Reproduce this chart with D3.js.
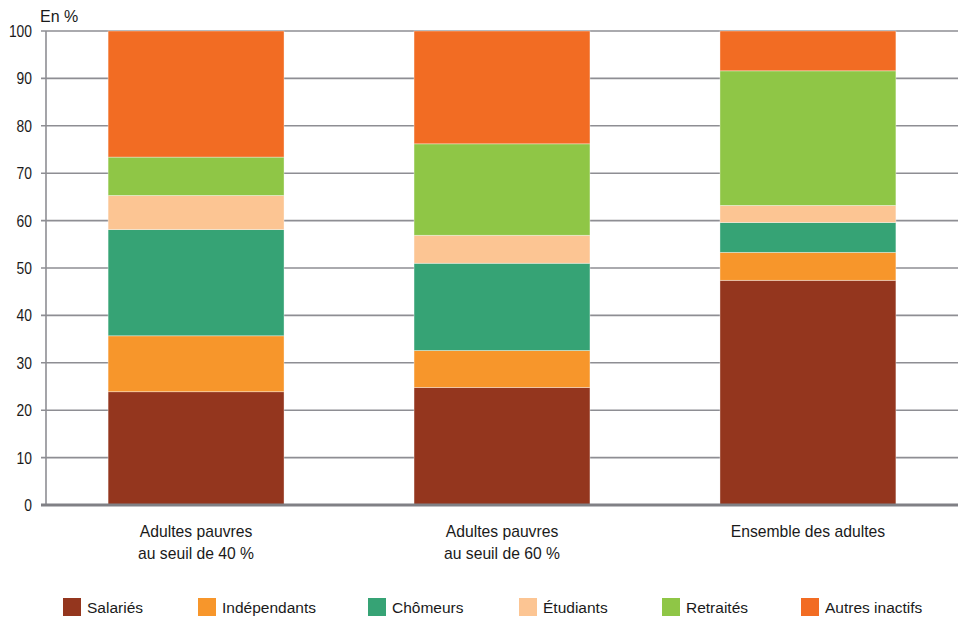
<!DOCTYPE html>
<html>
<head>
<meta charset="utf-8">
<script src="https://cdn.jsdelivr.net/npm/d3@7"></script>
<style>
  body { margin: 0; background: #fff; }
  svg { display: block; font-family: "Liberation Sans", Arial, sans-serif; }
</style>
</head>
<body>
<svg id="chart" width="961" height="618"></svg>
<script>
// --- data ---
const categories = [
    ['Adultes pauvres', 'au seuil de 40 %'],
    ['Adultes pauvres', 'au seuil de 60 %'],
    ['Ensemble des adultes']
];
const seriesNames = ['Salariés', 'Indépendants', 'Chômeurs', 'Étudiants', 'Retraités', 'Autres inactifs'];
const salaries     = [23.9, 24.8, 47.4];
const independants = [11.8, 7.8, 5.9];
const chomeurs     = [22.4, 18.4, 6.3];
const etudiants    = [7.2, 5.9, 3.6];
const retraites    = [8.1, 19.3, 28.4];
const autres       = [26.6, 23.8, 8.4];
const yTicks = [0, 10, 20, 30, 40, 50, 60, 70, 80, 90, 100];

const colors = ['#94361e', '#f7962b', '#36a375', '#fcc593', '#8fc646', '#f26c23'];

const table = categories.map((c, i) => ({
    key: i,
    'Salariés': salaries[i],
    'Indépendants': independants[i],
    'Chômeurs': chomeurs[i],
    'Étudiants': etudiants[i],
    'Retraités': retraites[i],
    'Autres inactifs': autres[i]
}));

const svg = d3.select('#chart');
const plot = { left: 46, right: 958, top: 31, bottom: 505 };

const x = d3.scaleBand()
    .domain(table.map(d => d.key))
    .range([plot.left, plot.right])
    .paddingInner(0.425)
    .paddingOuter(0.203);
const y = d3.scaleLinear().domain([0, 100]).range([plot.bottom, plot.top]);

// grid lines + ticks
svg.append('g')
    .selectAll('line')
    .data(yTicks.filter(t => t > 0))
    .join('line')
    .attr('x1', 41).attr('x2', plot.right)
    .attr('y1', d => y(d)).attr('y2', d => y(d))
    .attr('stroke', '#8e8e93')
    .attr('stroke-width', 1.6);

svg.append('g')
    .selectAll('text')
    .data(yTicks)
    .join('text')
    .attr('x', 32)
    .attr('y', d => y(d))
    .attr('dy', '0.36em')
    .attr('text-anchor', 'end')
    .attr('font-size', 16.5)
    .attr('textLength', d => String(d).length * 7.7)
    .attr('lengthAdjust', 'spacingAndGlyphs')
    .attr('fill', '#1a1a1a')
    .text(d => d);

svg.append('text')
    .attr('x', 40).attr('y', 22)
    .attr('font-size', 16)
    .attr('fill', '#1a1a1a')
    .text('En %');

// stacked bars
const stack = d3.stack().keys(seriesNames)(table);
svg.append('g')
    .selectAll('g')
    .data(stack)
    .join('g')
    .attr('fill', (d, i) => colors[i])
    .selectAll('rect')
    .data(d => d)
    .join('rect')
    .attr('x', d => x(d.data.key))
    .attr('width', x.bandwidth())
    .attr('y', d => y(d[1]))
    .attr('height', d => y(d[0]) - y(d[1]))
    .attr('stroke', 'rgba(255,255,255,0.45)')
    .attr('stroke-width', 0.8);

// y axis line and baseline
svg.append('line')
    .attr('x1', plot.left).attr('x2', plot.left)
    .attr('y1', plot.top).attr('y2', plot.bottom)
    .attr('stroke', '#8e8e93').attr('stroke-width', 1.6);
svg.append('line')
    .attr('x1', 41).attr('x2', plot.right)
    .attr('y1', plot.bottom).attr('y2', plot.bottom)
    .attr('stroke', '#808085').attr('stroke-width', 3);

// category labels
svg.append('g')
    .selectAll('text')
    .data(table)
    .join('text')
    .attr('text-anchor', 'middle')
    .attr('font-size', 15.7)
    .attr('fill', '#1a1a1a')
    .each(function(d) {
        const cx = x(d.key) + x.bandwidth() / 2;
        categories[d.key].forEach((line, i) => {
            d3.select(this).append('tspan')
                .attr('x', cx)
                .attr('y', 537 + i * 22)
                .text(line);
        });
    });

// legend
const legendX = [63, 198, 368, 519, 662, 801];
const legend = svg.append('g')
    .selectAll('g')
    .data(seriesNames)
    .join('g')
    .attr('transform', (d, i) => `translate(${legendX[i]},598)`);
legend.append('rect')
    .attr('width', 18).attr('height', 18)
    .attr('fill', (d, i) => colors[i]);
legend.append('text')
    .attr('x', 24).attr('y', 15)
    .attr('font-size', 15.5)
    .attr('fill', '#1a1a1a')
    .text(d => d);
</script>
</body>
</html>
